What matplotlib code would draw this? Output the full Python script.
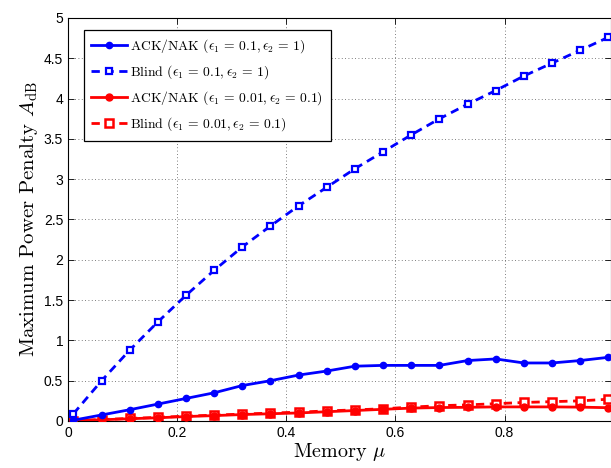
import numpy as np
import matplotlib
matplotlib.use("Agg")
import matplotlib.pyplot as plt

plt.rcParams['mathtext.fontset'] = 'cm'
plt.rcParams['axes.unicode_minus'] = False

mu = np.linspace(0.01, 0.99, 20)

ack_blue = [0.01, 0.075, 0.14, 0.21, 0.28, 0.35, 0.44, 0.50, 0.57, 0.62,
            0.68, 0.69, 0.69, 0.69, 0.75, 0.77, 0.72, 0.72, 0.75, 0.79]
blind_blue = [0.09, 0.50, 0.88, 1.23, 1.56, 1.87, 2.16, 2.42, 2.67, 2.90,
              3.13, 3.34, 3.55, 3.75, 3.93, 4.10, 4.28, 4.44, 4.60, 4.76]
ack_red = [0.003, 0.015, 0.028, 0.04, 0.055, 0.067, 0.08, 0.09, 0.10, 0.115,
           0.13, 0.145, 0.16, 0.167, 0.17, 0.175, 0.175, 0.175, 0.172, 0.165]
blind_red = [0.005, 0.018, 0.032, 0.045, 0.06, 0.073, 0.086, 0.098, 0.11, 0.125,
             0.138, 0.152, 0.172, 0.19, 0.20, 0.215, 0.23, 0.24, 0.25, 0.27]

labels = [r'ACK/NAK ($\epsilon_1\, =\, 0.1, \epsilon_2\, =\, 1$)',
          r'Blind ($\epsilon_1\, =\, 0.1, \epsilon_2\, =\, 1$)',
          r'ACK/NAK ($\epsilon_1\, =\, 0.01, \epsilon_2\, =\, 0.1$)',
          r'Blind ($\epsilon_1\, =\, 0.01, \epsilon_2\, =\, 0.1$)']
xticks = [0, 0.2, 0.4, 0.6, 0.8]
xticklabels = ['0', '0.2', '0.4', '0.6', '0.8']
yticks = [0, 0.5, 1, 1.5, 2, 2.5, 3, 3.5, 4, 4.5, 5]
yticklabels = ['0', '0.5', '1', '1.5', '2', '2.5', '3', '3.5', '4', '4.5', '5']

fig = plt.figure(figsize=(6.11, 4.68), dpi=100)
ax = fig.add_axes([68/611, 47/468, 543/611, 403/468])

blue = (0, 0, 1)
red = (1, 0, 0)
ax.plot(mu, blind_red, '--', color=red, lw=2, marker='s', ms=5.5, mfc='white', mec=red, mew=1.8,
        dashes=(3, 2), label=labels[3], zorder=2)
ax.plot(mu, ack_red, '-', color=red, lw=2, marker='o', ms=5, mfc=red, mec=red, label=labels[2], zorder=3)
ax.plot(mu, blind_blue, '--', color=blue, lw=2, marker='s', ms=5, mfc='white', mec=blue, mew=1.6,
        dashes=(3, 2), label=labels[1], zorder=4)
ax.plot(mu, ack_blue, '-', color=blue, lw=2, marker='o', ms=4.5, mfc=blue, mec=blue, label=labels[0], zorder=5)

ax.set_xlim(0, 0.995)
ax.set_ylim(0, 5)
ax.set_xticks(xticks)
ax.set_xticklabels(xticklabels)
ax.set_yticks(yticks)
ax.set_yticklabels(yticklabels)
ax.tick_params(direction='in', top=True, right=True, labelsize=10, length=4, width=0.6)
for lab in ax.get_xticklabels() + ax.get_yticklabels():
    lab.set_family('Liberation Sans')
ax.grid(True, linestyle=(0, (1, 3)), color='#555555', linewidth=0.6)
for s in ax.spines.values():
    s.set_linewidth(0.8)

ax.set_xlabel(r'Memory $\mu$', fontsize=14.5, family='cmr10', labelpad=1)
ax.set_ylabel(r'Maximum Power Penalty $A_{\rm dB}$', fontsize=15, family='cmr10', labelpad=3)

handles, labs = ax.get_legend_handles_labels()
order = [3, 2, 1, 0]
leg = ax.legend([handles[i] for i in order], [labs[i] for i in order],
                loc='upper left', prop={'family': 'cmr10', 'size': 9.8},
                fancybox=False, edgecolor='black', framealpha=1, handlelength=2.6,
                handletextpad=0.25, borderpad=0.55, labelspacing=0.6,
                borderaxespad=0, bbox_to_anchor=(16/543, 1 - 12/403))
leg.get_frame().set_linewidth(0.9)

fig.savefig('out.png', dpi=100)
